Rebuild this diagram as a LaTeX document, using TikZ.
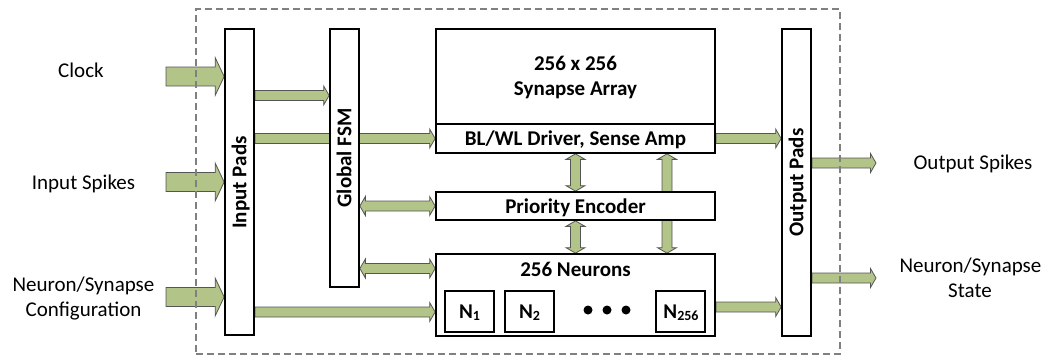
\documentclass[tikz,border=0pt]{standalone}
\usepackage{fontspec}
\setmainfont{Carlito}
\usetikzlibrary{calc,backgrounds}
\definecolor{arrfill}{RGB}{179,196,137}
\definecolor{arrline}{RGB}{85,85,85}
\definecolor{framegray}{RGB}{128,128,128}
\tikzset{
  blk/.style={fill=arrfill,draw=arrline,line width=0.8pt,line join=miter},
  box/.style={draw=black,fill=white,line width=1.7pt,inner sep=0pt},
  lbl/.style={font=\fontsize{21}{25}\selectfont,inner sep=0pt,anchor=base},
  blbl/.style={font=\fontsize{21}{25}\selectfont\bfseries,inner sep=0pt,anchor=base},
  vlbl/.style={font=\fontsize{21}{25}\selectfont\bfseries,rotate=90,text height=13.5pt,text depth=0pt,inner sep=0pt},
  chipframe/.style={draw=framegray,line width=1.3pt,dash pattern=on 7pt off 4pt,inner sep=0pt},
}
% single right-pointing block arrow: start, end, shaft half, head half, head length
\newcommand\rarr[5]{\filldraw[blk] let \p1=#1, \p2=#2 in
  (\x1,\y1+#3) -- (\x2-#5,\y1+#3) -- (\x2-#5,\y1+#4) -- (\x2,\y1) --
  (\x2-#5,\y1-#4) -- (\x2-#5,\y1-#3) -- (\x1,\y1-#3) -- cycle;}
% horizontal double block arrow: left, right
\newcommand\darrH[2]{\filldraw[blk] let \p1=#1, \p2=#2 in
  (\x1,\y1) -- (\x1+5.5pt,\y1+9.5pt) -- (\x1+5.5pt,\y1+5pt) -- (\x2-5.5pt,\y1+5pt) --
  (\x2-5.5pt,\y1+9.5pt) -- (\x2,\y1) -- (\x2-5.5pt,\y1-9.5pt) -- (\x2-5.5pt,\y1-5pt) --
  (\x1+5.5pt,\y1-5pt) -- (\x1+5.5pt,\y1-9.5pt) -- cycle;}
% vertical double block arrow: top, bottom
\newcommand\darrV[2]{\filldraw[blk] let \p1=#1, \p2=#2 in
  (\x1,\y1) -- (\x1+9.5pt,\y1-5.5pt) -- (\x1+5pt,\y1-5.5pt) -- (\x1+5pt,\y2+5.5pt) --
  (\x1+9.5pt,\y2+5.5pt) -- (\x1,\y2) -- (\x1-9.5pt,\y2+5.5pt) -- (\x1-5pt,\y2+5.5pt) --
  (\x1-5pt,\y1-5.5pt) -- (\x1-9.5pt,\y1-5.5pt) -- cycle;}
\begin{document}
\begin{tikzpicture}[x=1pt,y=-1pt]
\useasboundingbox (0,0) rectangle (1046,356);

% boxes
\node[box,minimum width=29pt,minimum height=306pt] (inpads) at (239.5,182) {};
\node[box,minimum width=29pt,minimum height=258pt] (fsm) at (344.5,158) {};
\node[box,minimum width=279pt,minimum height=95pt] (synarr) at (575.5,76.5) {};
\node[box,minimum width=279pt,minimum height=29pt] (blwl) at (575.5,138.5) {};
\node[box,minimum width=279pt,minimum height=28pt] (prienc) at (575.5,206) {};
\node[box,minimum width=279pt,minimum height=82pt] (neurons) at (575.5,295) {};
\node[box,minimum width=49pt,minimum height=41pt] (n1) at (469.5,311.5) {};
\node[box,minimum width=49pt,minimum height=41pt] (n2) at (529.5,311.5) {};
\node[box,minimum width=49pt,minimum height=41pt] (n256) at (680.5,311.5) {};
\node[box,minimum width=29pt,minimum height=307pt] (outpads) at (796.5,182.5) {};

% box texts
\node[vlbl] (tinpads) at (239.5,182.5) {Input Pads};
\node[vlbl] (tfsm) at (344.5,158) {Global FSM};
\node[vlbl] (toutpads) at (796.5,182.5) {Output Pads};
\node[blbl] (tsyn1) at (575.5,70) {256 x 256};
\node[blbl] (tsyn2) at (575.5,95.7) {Synapse Array};
\node[blbl] (tblwl) at (575.5,145.7) {BL/WL Driver, Sense Amp};
\node[blbl] (tpe) at (575.5,213.3) {Priority Encoder};
\node[blbl] (tneu) at (575.5,276) {256 Neurons};
\node[blbl] (tn1) at (469.5,318.3) {N\raisebox{-2pt}{\fontsize{14}{14}\selectfont 1}};
\node[blbl] (tn2) at (529.5,318.3) {N\raisebox{-2pt}{\fontsize{14}{14}\selectfont 2}};
\node[blbl] (tn256) at (681,318.3) {N\raisebox{-2pt}{\fontsize{14}{14}\selectfont 256}};
\foreach \i/\xx in {1/588,2/607,3/626}
  \node[circle,fill=black,inner sep=0pt,minimum size=9pt] (dot\i) at (\xx,310) {};

% outside labels
\node[lbl] (lclk) at (81,77.7) {Clock};
\node[lbl] (lspk) at (83.5,189) {Input Spikes};
\node[lbl] (lcfg1) at (83.5,291) {Neuron/Synapse};
\node[lbl] (lcfg2) at (83.5,316.7) {Configuration};
\node[lbl] (lospk) at (973,169.3) {Output Spikes};
\node[lbl] (lst1) at (970.5,272.7) {Neuron/Synapse};
\node[lbl] (lst2) at (970,297.7) {State};

% helper coordinates
\coordinate (clkin) at (166,76.5);
\coordinate (spkin) at (166,182);
\coordinate (cfgin) at (166,297);
\coordinate (spkout) at (876,163);
\coordinate (stout) at (876,278);
\coordinate (yA) at (0,95.5);
\coordinate (yB) at (0,268.5);
\coordinate (yC) at (0,312);
\coordinate (yD) at (0,307);
\coordinate (xB) at (667,0);

\begin{pgfonlayer}{background}
  \rarr{(clkin)}{(clkin -| inpads.west)}{9.5pt}{19pt}{9pt}
  \rarr{(spkin)}{(spkin -| inpads.west)}{9.5pt}{19pt}{9pt}
  \rarr{(cfgin)}{(cfgin -| inpads.west)}{9.5pt}{19pt}{9pt}
  \rarr{(inpads.east |- yA)}{(fsm.west |- yA)}{5pt}{9.5pt}{5.5pt}
  \rarr{(inpads.east |- blwl.west)}{(blwl.west)}{5pt}{9.5pt}{5.5pt}
  \darrH{(fsm.east |- prienc.west)}{(prienc.west)}
  \darrH{(fsm.east |- yB)}{(neurons.west |- yB)}
  \rarr{(inpads.east |- yC)}{(neurons.west |- yC)}{5pt}{9.5pt}{5.5pt}
  \darrV{(blwl.south)}{(prienc.north)}
  \darrV{(prienc.south)}{(neurons.north)}
  \darrV{(blwl.south -| xB)}{(neurons.north -| xB)}
  \rarr{(blwl.east)}{(blwl.east -| outpads.west)}{5pt}{9.5pt}{5.5pt}
  \rarr{(neurons.east |- yD)}{(outpads.west |- yD)}{5pt}{9.5pt}{5.5pt}
  \rarr{(outpads.east |- spkout)}{(spkout)}{5pt}{9.5pt}{5.5pt}
  \rarr{(outpads.east |- stout)}{(stout)}{5pt}{9.5pt}{5.5pt}
\end{pgfonlayer}

% dashed chip frame
\node[chipframe,minimum width=644pt,minimum height=345pt] (chip) at (518,181.5) {};
\end{tikzpicture}
\end{document}
